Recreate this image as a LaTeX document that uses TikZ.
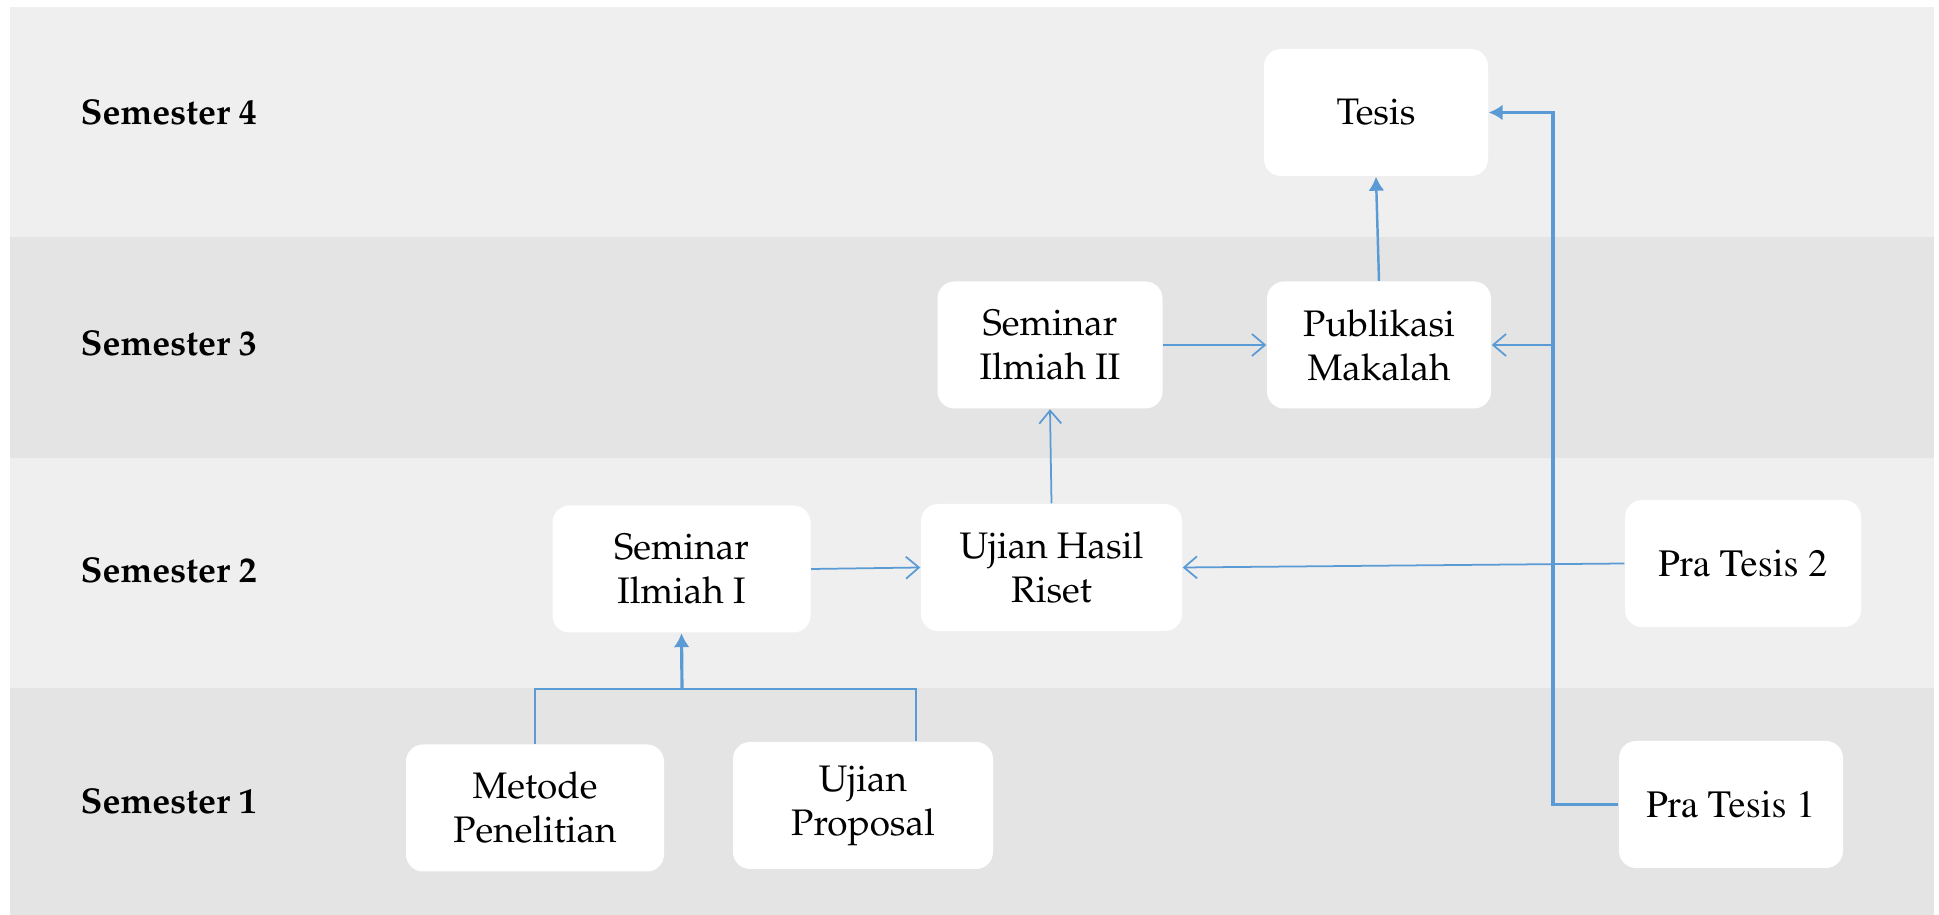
\documentclass[tikz,border=0pt]{standalone}
\usepackage[T1]{fontenc}
\usepackage{mathpazo}
\usepackage{tikz}
\usetikzlibrary{arrows.meta}

\definecolor{bandA}{HTML}{EFEFEF}
\definecolor{bandB}{HTML}{E5E4E4}
\definecolor{linkblue}{HTML}{5B9BD5}

\begin{document}
\begin{tikzpicture}[sem/.style={anchor=west, inner sep=0pt, font=\fontsize{10.2}{12.5}\selectfont\bfseries}, box/.style={rectangle, rounded corners=0.17cm, fill=white, minimum width=2.24cm, minimum height=1.27cm, align=center, font=\fontsize{10.5}{12.5}\selectfont}, wide/.style={box, minimum width=2.58cm}, pra/.style={box, font=\fontsize{11}{13}\fontfamily{ptm}\selectfont}, wire/.style={linkblue, line width=0.5pt}, ln/.style={-{Straight Barb[length=1.3mm, width=2.2mm]}, linkblue, line width=0.5pt}, lb/.style={-{Latex[length=1.4mm, width=1.6mm]}, linkblue, line width=0.9pt}]
                \useasboundingbox (0,0) rectangle (19.39,9.15);
                % semester bands
                \fill[bandA] (0.10,6.78) rectangle (19.34,9.08);
                \fill[bandB] (0.10,4.57) rectangle (19.34,6.78);
                \fill[bandA] (0.10,2.27) rectangle (19.34,4.57);
                \fill[bandB] (0.10,0) rectangle (19.34,2.27);
                % semester labels
                \node[sem] (s4) at (0.80,8.03) {Semester 4};
                \node[sem] (s3) at (0.80,5.72) {Semester 3};
                \node[sem] (s2) at (0.80,3.45) {Semester 2};
                \node[sem] (s1) at (0.80,1.14) {Semester 1};
                % nodes
                \node[box]  (tesis)     at (13.76,8.025) {Tesis};
                \node[box]  (publikasi) at (13.79,5.70) {Publikasi\\Makalah};
                \node[box, minimum width=2.25cm] (seminar2) at (10.50,5.70) {Seminar\\Ilmiah II};
                \node[wide] (seminar1)  at (6.815,3.46) {Seminar\\Ilmiah I};
                \node[wide, minimum width=2.61cm] (hasil) at (10.515,3.475) {Ujian Hasil\\Riset};
                \node[pra, minimum width=2.36cm] (pra2) at (17.43,3.515) {Pra Tesis 2};
                \node[wide] (metode)    at (5.35,1.07) {Metode\\Penelitian};
                \node[wide, minimum width=2.60cm] (proposal) at (8.63,1.095) {Ujian\\Proposal};
                \node[pra]  (pra1)      at (17.31,1.105) {Pra Tesis 1};
                \coordinate (join) at (6.82,2.26);
                \coordinate (bend) at (15.53,1.105);
                % edges
                \draw [wire] (metode.north) |- (join) -| ([xshift=5.3mm]proposal.north);
                \draw [lb] (join) -- (seminar1.south);
                \draw [ln] (seminar1.east) -- (hasil.west);
                \draw [ln] (pra2.west) -- (hasil.east);
                \draw [ln] (hasil.north) -- (seminar2.south);
                \draw [ln] (seminar2.east) -- (publikasi.west);
                \draw [lb, line width=0.7pt] (publikasi.north) -- (tesis.south);
                \draw [lb] (pra1.west) -- (bend) |- (tesis.east);
                \draw [ln] (bend |- publikasi.east) -- (publikasi.east);
            \end{tikzpicture}
\end{document}
